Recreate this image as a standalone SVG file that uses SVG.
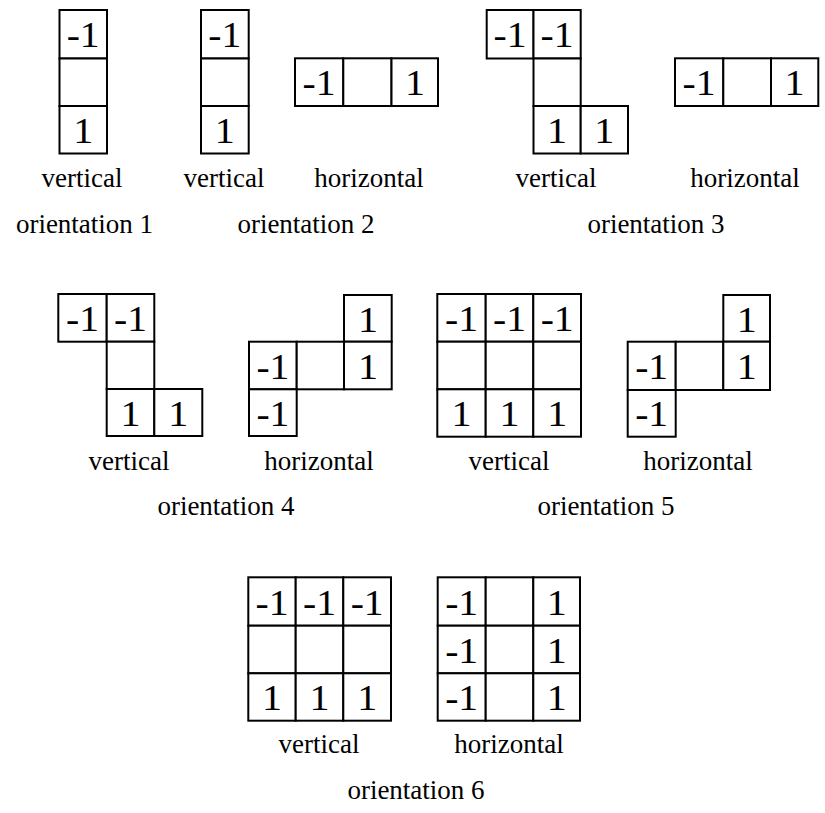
<svg xmlns="http://www.w3.org/2000/svg" width="825" height="813" viewBox="0 0 825 813">
<style>
rect.c{fill:#fff;stroke:#000;stroke-width:2}
text{font-family:"Liberation Serif","Times New Roman",serif;fill:#000;text-anchor:middle}
text.n{font-size:36px}
text.l{font-size:27px}
</style>
<rect x="0" y="0" width="825" height="813" fill="#fff"/>

<!-- orientation 1 -->
<g id="o1-vertical">
<rect class="c" x="59.5" y="10" width="47.5" height="48.5"/>
<rect class="c" x="59.5" y="58.5" width="47.5" height="47.5"/>
<rect class="c" x="59.5" y="106" width="47.5" height="47.5"/>
<text class="n" x="83.2" y="47" textLength="33" lengthAdjust="spacingAndGlyphs">-1</text>
<text class="n" x="83.2" y="142.5" textLength="20" lengthAdjust="spacingAndGlyphs">1</text>
<text class="l" x="82" y="187">vertical</text>
</g>
<g id="o1-label"><text class="l" x="84.5" y="233">orientation 1</text></g>

<!-- orientation 2 -->
<g id="o2-vertical">
<rect class="c" x="201" y="10" width="47.7" height="48.5"/>
<rect class="c" x="201" y="58.5" width="47.7" height="47.5"/>
<rect class="c" x="201" y="106" width="47.7" height="47.5"/>
<text class="n" x="224.8" y="47" textLength="33" lengthAdjust="spacingAndGlyphs">-1</text>
<text class="n" x="224.8" y="142.5" textLength="20" lengthAdjust="spacingAndGlyphs">1</text>
<text class="l" x="224" y="187">vertical</text>
</g>
<g id="o2-horizontal">
<rect class="c" x="295" y="58.3" width="48.3" height="47.7"/>
<rect class="c" x="343.3" y="58.3" width="48.2" height="47.7"/>
<rect class="c" x="391.5" y="58.3" width="46.5" height="47.7"/>
<text class="n" x="319" y="95" textLength="33" lengthAdjust="spacingAndGlyphs">-1</text>
<text class="n" x="415" y="95" textLength="20" lengthAdjust="spacingAndGlyphs">1</text>
<text class="l" x="369" y="187">horizontal</text>
</g>
<g id="o2-label"><text class="l" x="306" y="233">orientation 2</text></g>

<!-- orientation 3 -->
<g id="o3-vertical">
<rect class="c" x="486.7" y="10" width="46.8" height="48.5"/>
<rect class="c" x="533.5" y="10" width="47.2" height="48.5"/>
<rect class="c" x="533.5" y="58.5" width="47.2" height="47.5"/>
<rect class="c" x="533.5" y="106" width="47.2" height="47.5"/>
<rect class="c" x="580.7" y="106" width="47.3" height="47.5"/>
<text class="n" x="510.1" y="47" textLength="33" lengthAdjust="spacingAndGlyphs">-1</text>
<text class="n" x="557.1" y="47" textLength="33" lengthAdjust="spacingAndGlyphs">-1</text>
<text class="n" x="557.1" y="142.5" textLength="20" lengthAdjust="spacingAndGlyphs">1</text>
<text class="n" x="604.3" y="142.5" textLength="20" lengthAdjust="spacingAndGlyphs">1</text>
<text class="l" x="556" y="187">vertical</text>
</g>
<g id="o3-horizontal">
<rect class="c" x="675" y="58.3" width="48.3" height="47.7"/>
<rect class="c" x="723.3" y="58.3" width="47.7" height="47.7"/>
<rect class="c" x="771" y="58.3" width="47.3" height="47.7"/>
<text class="n" x="699" y="95" textLength="33" lengthAdjust="spacingAndGlyphs">-1</text>
<text class="n" x="794.6" y="95" textLength="20" lengthAdjust="spacingAndGlyphs">1</text>
<text class="l" x="745" y="187">horizontal</text>
</g>
<g id="o3-label"><text class="l" x="656" y="233">orientation 3</text></g>

<!-- orientation 4 -->
<g id="o4-vertical">
<rect class="c" x="58.3" y="294" width="48.4" height="47.7"/>
<rect class="c" x="106.7" y="294" width="47.6" height="47.7"/>
<rect class="c" x="106.7" y="341.7" width="47.6" height="47.3"/>
<rect class="c" x="106.7" y="389" width="47.6" height="47"/>
<rect class="c" x="154.3" y="389" width="48" height="47"/>
<text class="n" x="82.5" y="331" textLength="33" lengthAdjust="spacingAndGlyphs">-1</text>
<text class="n" x="130.5" y="331" textLength="33" lengthAdjust="spacingAndGlyphs">-1</text>
<text class="n" x="130.5" y="425.5" textLength="20" lengthAdjust="spacingAndGlyphs">1</text>
<text class="n" x="178.3" y="425.5" textLength="20" lengthAdjust="spacingAndGlyphs">1</text>
<text class="l" x="129" y="470">vertical</text>
</g>
<g id="o4-horizontal">
<rect class="c" x="344" y="295" width="47.7" height="46.7"/>
<rect class="c" x="249" y="341.7" width="47.7" height="47.6"/>
<rect class="c" x="296.7" y="341.7" width="47.3" height="47.6"/>
<rect class="c" x="344" y="341.7" width="47.7" height="47.6"/>
<rect class="c" x="249" y="389.3" width="47.7" height="46.7"/>
<text class="n" x="367.9" y="331.5" textLength="20" lengthAdjust="spacingAndGlyphs">1</text>
<text class="n" x="272.9" y="378.5" textLength="33" lengthAdjust="spacingAndGlyphs">-1</text>
<text class="n" x="367.9" y="378.5" textLength="20" lengthAdjust="spacingAndGlyphs">1</text>
<text class="n" x="272.9" y="425.5" textLength="33" lengthAdjust="spacingAndGlyphs">-1</text>
<text class="l" x="319" y="470">horizontal</text>
</g>
<g id="o4-label"><text class="l" x="226" y="515">orientation 4</text></g>

<!-- orientation 5 -->
<g id="o5-vertical">
<rect class="c" x="437.3" y="294" width="48.4" height="47.7"/>
<rect class="c" x="485.7" y="294" width="47.6" height="47.7"/>
<rect class="c" x="533.3" y="294" width="47.7" height="47.7"/>
<rect class="c" x="437.3" y="341.7" width="48.4" height="47.6"/>
<rect class="c" x="485.7" y="341.7" width="47.6" height="47.6"/>
<rect class="c" x="533.3" y="341.7" width="47.7" height="47.6"/>
<rect class="c" x="437.3" y="389.3" width="48.4" height="47.4"/>
<rect class="c" x="485.7" y="389.3" width="47.6" height="47.4"/>
<rect class="c" x="533.3" y="389.3" width="47.7" height="47.4"/>
<text class="n" x="461.5" y="331" textLength="33" lengthAdjust="spacingAndGlyphs">-1</text>
<text class="n" x="509.5" y="331" textLength="33" lengthAdjust="spacingAndGlyphs">-1</text>
<text class="n" x="557.2" y="331" textLength="33" lengthAdjust="spacingAndGlyphs">-1</text>
<text class="n" x="461.5" y="426" textLength="20" lengthAdjust="spacingAndGlyphs">1</text>
<text class="n" x="509.5" y="426" textLength="20" lengthAdjust="spacingAndGlyphs">1</text>
<text class="n" x="557.2" y="426" textLength="20" lengthAdjust="spacingAndGlyphs">1</text>
<text class="l" x="509" y="470">vertical</text>
</g>
<g id="o5-horizontal">
<rect class="c" x="723.3" y="295" width="46.7" height="46.7"/>
<rect class="c" x="627.7" y="341.7" width="48" height="48.3"/>
<rect class="c" x="675.7" y="341.7" width="47.6" height="48.3"/>
<rect class="c" x="723.3" y="341.7" width="46.7" height="48.3"/>
<rect class="c" x="627.7" y="390" width="48" height="46.7"/>
<text class="n" x="746.7" y="331.5" textLength="20" lengthAdjust="spacingAndGlyphs">1</text>
<text class="n" x="651.7" y="378.5" textLength="33" lengthAdjust="spacingAndGlyphs">-1</text>
<text class="n" x="746.7" y="378.5" textLength="20" lengthAdjust="spacingAndGlyphs">1</text>
<text class="n" x="651.7" y="426" textLength="33" lengthAdjust="spacingAndGlyphs">-1</text>
<text class="l" x="698" y="470">horizontal</text>
</g>
<g id="o5-label"><text class="l" x="606" y="515">orientation 5</text></g>

<!-- orientation 6 -->
<g id="o6-vertical">
<rect class="c" x="248.3" y="577.3" width="47.4" height="48.4"/>
<rect class="c" x="295.7" y="577.3" width="47.6" height="48.4"/>
<rect class="c" x="343.3" y="577.3" width="47.7" height="48.4"/>
<rect class="c" x="248.3" y="625.7" width="47.4" height="47.6"/>
<rect class="c" x="295.7" y="625.7" width="47.6" height="47.6"/>
<rect class="c" x="343.3" y="625.7" width="47.7" height="47.6"/>
<rect class="c" x="248.3" y="673.3" width="47.4" height="47.4"/>
<rect class="c" x="295.7" y="673.3" width="47.6" height="47.4"/>
<rect class="c" x="343.3" y="673.3" width="47.7" height="47.4"/>
<text class="n" x="272" y="614.5" textLength="33" lengthAdjust="spacingAndGlyphs">-1</text>
<text class="n" x="319.5" y="614.5" textLength="33" lengthAdjust="spacingAndGlyphs">-1</text>
<text class="n" x="367.2" y="614.5" textLength="33" lengthAdjust="spacingAndGlyphs">-1</text>
<text class="n" x="272" y="710" textLength="20" lengthAdjust="spacingAndGlyphs">1</text>
<text class="n" x="319.5" y="710" textLength="20" lengthAdjust="spacingAndGlyphs">1</text>
<text class="n" x="367.2" y="710" textLength="20" lengthAdjust="spacingAndGlyphs">1</text>
<text class="l" x="319" y="753">vertical</text>
</g>
<g id="o6-horizontal">
<rect class="c" x="437.7" y="577.3" width="48" height="48.4"/>
<rect class="c" x="485.7" y="577.3" width="47.6" height="48.4"/>
<rect class="c" x="533.3" y="577.3" width="46.7" height="48.4"/>
<rect class="c" x="437.7" y="625.7" width="48" height="47.6"/>
<rect class="c" x="485.7" y="625.7" width="47.6" height="47.6"/>
<rect class="c" x="533.3" y="625.7" width="46.7" height="47.6"/>
<rect class="c" x="437.7" y="673.3" width="48" height="47.4"/>
<rect class="c" x="485.7" y="673.3" width="47.6" height="47.4"/>
<rect class="c" x="533.3" y="673.3" width="46.7" height="47.4"/>
<text class="n" x="461.7" y="614.5" textLength="33" lengthAdjust="spacingAndGlyphs">-1</text>
<text class="n" x="556.7" y="614.5" textLength="20" lengthAdjust="spacingAndGlyphs">1</text>
<text class="n" x="461.7" y="662.5" textLength="33" lengthAdjust="spacingAndGlyphs">-1</text>
<text class="n" x="556.7" y="662.5" textLength="20" lengthAdjust="spacingAndGlyphs">1</text>
<text class="n" x="461.7" y="710" textLength="33" lengthAdjust="spacingAndGlyphs">-1</text>
<text class="n" x="556.7" y="710" textLength="20" lengthAdjust="spacingAndGlyphs">1</text>
<text class="l" x="509" y="753">horizontal</text>
</g>
<g id="o6-label"><text class="l" x="416" y="799">orientation 6</text></g>
</svg>
